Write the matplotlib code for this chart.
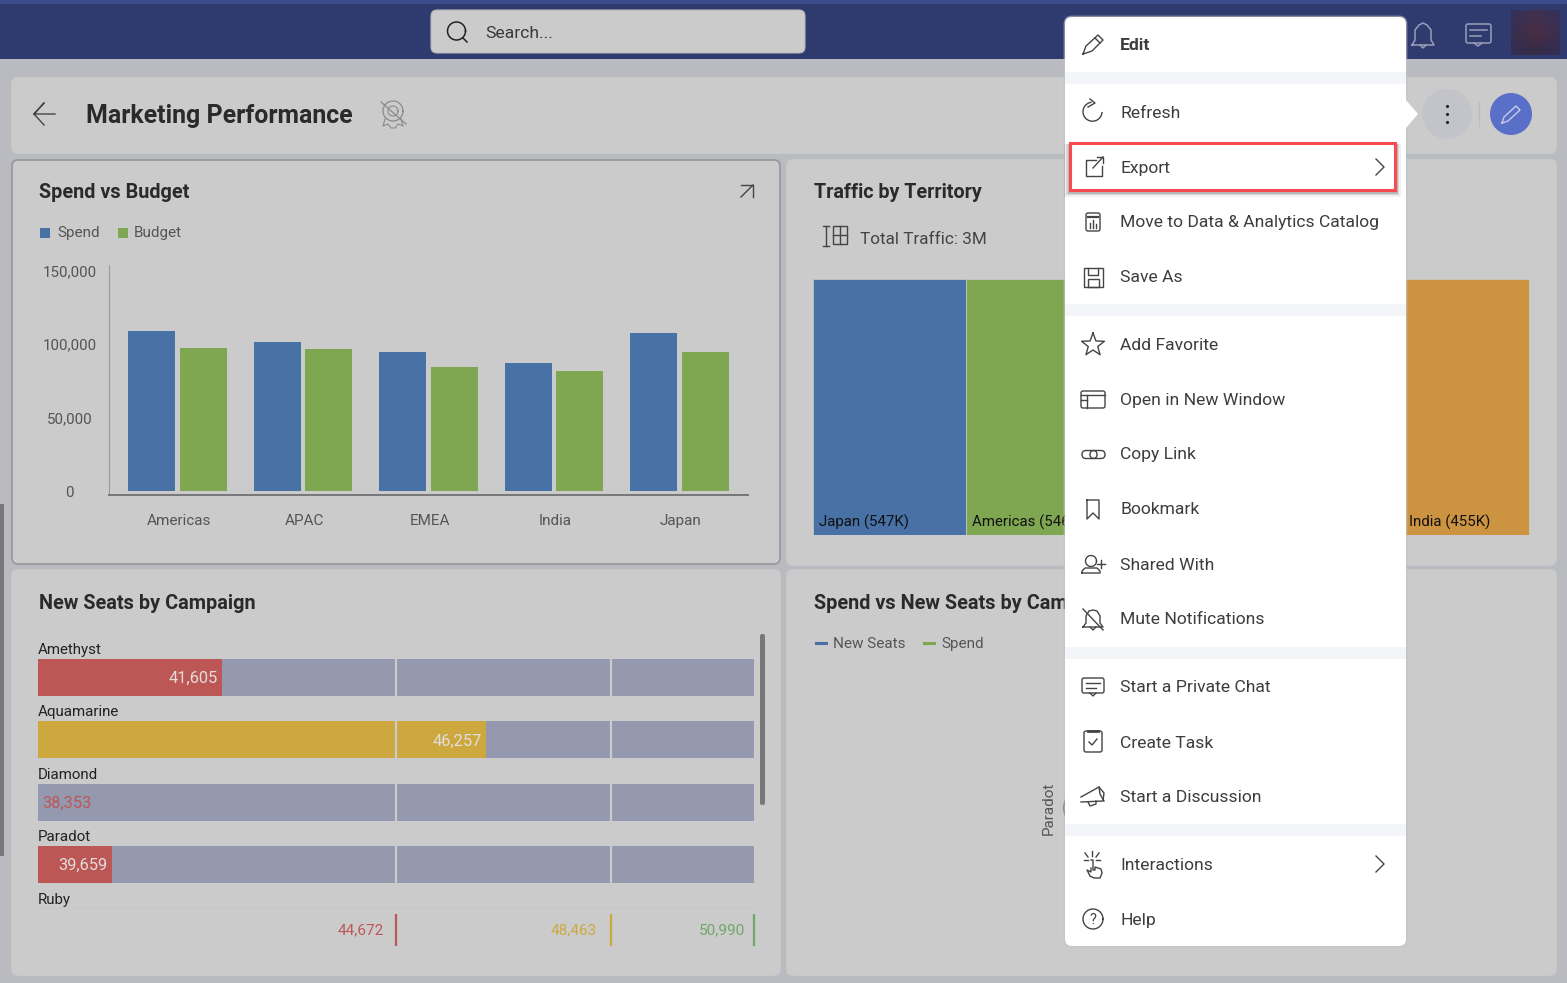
import numpy as np
import matplotlib.pyplot as plt
from matplotlib.patches import FancyBboxPatch, Rectangle, Circle, Polygon

plt.rcParams['font.family'] = ['Roboto', 'DejaVu Sans']

campaigns = ["Amethyst", "Aquamarine", "Diamond", "Paradot"]
new_seats = [41605, 46257, 38353, 39659]
seat_limits = [38353, 44672, 48463, 50990]

territories = ["Americas", "APAC", "EMEA", "India", "Japan"]
spend = [108800, 101400, 94500, 87100, 107500]
budget = [97300, 96600, 84400, 81600, 94500]

traffic_names = ["Japan (547K)", "Americas (546K)", "", "", "India (455K)"]
traffic_values = [547, 546, 520, 505, 455]
traffic_colors = ["#4871a6", "#7fa650", "#bd5755", "#cca83f", "#cc9440"]

menu_labels = ["Edit", "Refresh", "Export", "Move to Data & Analytics Catalog", "Save As", "Add Favorite",
               "Open in New Window", "Copy Link", "Bookmark", "Shared With", "Mute Notifications",
               "Start a Private Chat", "Create Task", "Start a Discussion", "Interactions", "Help"]
menu_rows = [44, 112, 167, 222, 277, 344, 399, 454, 509, 564, 619, 687, 742, 797, 864, 919]

W = 1567
H = 983
panel = "#cbcbcb"
blue = "#4871a6"
green = "#7fa650"
red = "#bd5755"
yellow = "#cca83f"
gray_band = "#9499af"
ink = "#3d3d3d"

fig = plt.figure(figsize=(W / 100, H / 100), dpi=100, facecolor="#b9bbc0")

print("page...")
plt.axes([0, 0, 1, 1], zorder=0)
plt.xlim(0, W)
plt.ylim(H, 0)
plt.axis("off")
bg = plt.gca()

bg.add_patch(Rectangle((0, 0), W, 59, color="#2f3a6f", lw=0))
bg.add_patch(Rectangle((0, 0), W, 4, color="#3d4a8c", lw=0))
bg.add_patch(FancyBboxPatch((435, 14), 366, 35, boxstyle="round,pad=4,rounding_size=6", fc=panel, ec="#b5b5b8", lw=0.8))
bg.add_patch(Rectangle((0, 504), 4, 352, color="#77777c", lw=0))

# panneaux
for x0, y0, x1, y1, edge in [(12, 78, 1556, 153, panel), (12, 160, 780, 564, "#96969b"), (787, 160, 1556, 565, panel),
                             (12, 570, 780, 975, panel), (787, 570, 1556, 975, panel)]:
    bg.add_patch(FancyBboxPatch((x0 + 6, y0 + 6), x1 - x0 - 12, y1 - y0 - 12, boxstyle="round,pad=6,rounding_size=6",
                                fc=panel, ec=edge, lw=1.2))

t = np.linspace(0, 2 * np.pi, 60)
plt.plot(456.5 + 9 * np.cos(t), 31 + 9 * np.sin(t), color="#222222", lw=1.1)
plt.plot([463, 467], [38, 42], color="#222222", lw=1.1)
plt.text(485.5, 33, "Search...", fontsize=12.6, color="#3a3a3a", va="center")

plt.plot([55, 34, 44, 34, 44], [114, 114, 103, 114, 125], color="#444444", lw=1)
plt.text(85.5, 115.5, "Marketing Performance", fontsize=17.95, fontweight="bold", color="#2a2a2a", va="center")
plt.plot(393 + 10 * np.cos(t), 111 + 10 * np.sin(t), color="#8a8a8a", lw=0.9)
plt.plot(393 + 5 * np.cos(t), 111 + 5 * np.sin(t), color="#8a8a8a", lw=0.8)
plt.plot([385, 383, 388, 391, 395, 398, 403, 401], [119, 126, 124, 128, 128, 124, 126, 119], color="#8a8a8a", lw=0.8)
plt.plot([381, 406], [102, 124], color="#8a8a8a", lw=0.9)

# icones du haut
for cx in [1423]:
    plt.plot(cx + np.array([-11, -8, -8, -4, 0, 4, 8, 8, 11, -11]), 34 + np.array([11, 6, -4, -9, -11, -9, -4, 6, 11, 11]),
             color="#9a9fb8", lw=1.1)
    plt.plot(cx + np.array([-3, 0, 3]), 34 + np.array([11, 14, 11]), color="#9a9fb8", lw=1.1)
bg.add_patch(FancyBboxPatch((1466, 24), 25, 19, boxstyle="round,pad=0,rounding_size=2", fc="none", ec="#9a9fb8", lw=1.1))
plt.plot([1470, 1487], [30, 30], color="#9a9fb8", lw=1.1)
plt.plot([1470, 1481], [36, 36], color="#9a9fb8", lw=1.1)
plt.plot([1474, 1478, 1482], [43, 46, 43], color="#9a9fb8", lw=1.1)
avatar = np.array([[[0.21, 0.19, 0.35], [0.27, 0.19, 0.30], [0.21, 0.19, 0.35]],
                   [[0.23, 0.18, 0.30], [0.33, 0.18, 0.24], [0.25, 0.18, 0.30]],
                   [[0.20, 0.18, 0.32], [0.21, 0.17, 0.27], [0.20, 0.18, 0.32]]])
plt.imshow(avatar, extent=(1511, 1560, 55, 10), interpolation="bicubic", aspect="auto", zorder=2)
plt.xlim(0, W)
plt.ylim(H, 0)

bg.add_patch(Circle((1447, 114), 25, color="#c3c4c9", lw=0))
plt.scatter([1447, 1447, 1447], [106, 114, 122], s=5, color="#1e1e1e", lw=0)
plt.plot([1479, 1479], [102, 126], color="#bcbcc0", lw=1)
bg.add_patch(Circle((1511, 114), 21, color="#5a6fc8", lw=0))
plt.plot([1502, 1504, 1516, 1520, 1508, 1502], [123, 117, 106, 110, 121, 123], color="#c6cbe6", lw=1)

# titres et legendes
plt.text(39, 192.5, "Spend vs Budget", fontsize=14.3, fontweight="bold", color="#2a2a2a", va="center")
plt.plot([741, 753], [197, 185], color="#444444", lw=1)
plt.plot([741, 753, 753], [185, 185, 197], color="#444444", lw=1)
bg.add_patch(Rectangle((40, 228), 10, 10, color=blue, lw=0))
plt.text(57, 233, "Spend", fontsize=11, color="#555555", va="center")
bg.add_patch(Rectangle((118, 228), 10, 10, color=green, lw=0))
plt.text(134, 233, "Budget", fontsize=11, color="#555555", va="center")

plt.text(814, 192.5, "Traffic by Territory", fontsize=14.2, fontweight="bold", color="#2a2a2a", va="center")
plt.plot([823, 829], [226, 226], color="#444444", lw=1)
plt.plot([823, 829], [246, 246], color="#444444", lw=1)
plt.plot([826, 826], [226, 246], color="#444444", lw=1)
bg.add_patch(Rectangle((833, 226), 14, 18, fc="none", ec="#444444", lw=1))
plt.plot([833, 847], [235, 235], color="#444444", lw=1)
plt.plot([840, 840], [226, 244], color="#444444", lw=1)
plt.text(860, 239, "Total Traffic: 3M", fontsize=12.3, color="#444444", va="center")

plt.text(39, 603.5, "New Seats by Campaign", fontsize=14.3, fontweight="bold", color="#2a2a2a", va="center")
bg.add_patch(FancyBboxPatch((760, 634), 5, 171, boxstyle="round,pad=0,rounding_size=2", fc="#77777c", lw=0))

plt.text(814, 603.5, "Spend vs New Seats by Campaign", fontsize=14.3, fontweight="bold", color="#2a2a2a", va="center")
plt.plot([816, 826], [643, 643], color=blue, lw=2.2)
plt.text(833, 644, "New Seats", fontsize=11, color="#555555", va="center")
plt.plot([924, 934], [643, 643], color=green, lw=2.2)
plt.text(941, 644, "Spend", fontsize=11, color="#555555", va="center")
plt.text(1049, 808, "Paradot", fontsize=11, color="#555555", rotation=90, va="center", ha="center")
plt.plot(1090 + 26 * np.cos(t[22:38]), 808 + 26 * np.sin(t[22:38]), color="#555555", lw=1)

print("spend vs budget...")
plt.axes([109 / W, 1 - 495 / H, (748 - 109) / W, (495 - 265) / H], zorder=1, facecolor="none")
x = np.arange(len(territories))
plt.bar(x - 0.219, spend, 0.3745, color=blue)
plt.bar(x + 0.195, budget, 0.3745, color=green)
plt.xlim(-0.558, 4.534)
plt.ylim(-2721, 153741)
plt.xticks(x, territories, fontsize=11, color="#555555")
plt.yticks([0, 50000, 100000, 150000], ["0", "50,000", "100,000", "150,000"], fontsize=10.9, color="#555555", ha="center",
           va="center_baseline")
plt.tick_params(axis="y", length=0, pad=28.4)
plt.tick_params(axis="x", length=0, pad=13.5)
for side in ["top", "right"]:
    plt.gca().spines[side].set_visible(False)
plt.gca().spines["left"].set_color("#9a9a9a")
plt.gca().spines["bottom"].set_color("#77777a")
plt.gca().spines["bottom"].set_linewidth(1.4)

print("traffic...")
plt.axes([813.5 / W, 1 - 534.5 / H, (1529.5 - 813.5) / W, (534.5 - 278.5) / H], zorder=1)
left = np.cumsum([0] + traffic_values[:-1])
plt.bar(left, 1, traffic_values, align="edge", color=traffic_colors, edgecolor=panel, linewidth=0.5)
plt.xlim(0, sum(traffic_values))
plt.ylim(0, 1)
plt.axis("off")
for i in range(len(traffic_values)):
    if traffic_names[i]:
        plt.annotate(traffic_names[i], (left[i], 0), xytext=(4.3, 9), textcoords="offset points", fontsize=10.8, color="#111111",
                     va="center")

print("new seats...")
plt.axes([38 / W, 1 - 950 / H, (754 - 38) / W, (950 - 634) / H], zorder=1, facecolor="none")
rows = np.arange(len(campaigns))
band_left = seat_limits[:-1]
band_width = np.diff(seat_limits)
for i in rows:
    plt.barh(i, band_width, 0.594, left=band_left, color=gray_band)
    limit_color = red if new_seats[i] < seat_limits[1] else yellow
    plt.barh(i, new_seats[i] - seat_limits[0], 0.594, left=seat_limits[0], color=limit_color)
    plt.vlines(seat_limits[1:3], i - 0.297, i + 0.297, color=panel, lw=1.6)
    plt.text(seat_limits[0], i - 0.44, campaigns[i], fontsize=10.9, color="#222222", va="center")
    if new_seats[i] == seat_limits[0]:
        plt.annotate(f"{new_seats[i]:,}", (new_seats[i], i + 0.016), xytext=(3, 0), textcoords="offset points", fontsize=11.8, color=red,
                     va="center")
    else:
        plt.annotate(f"{new_seats[i]:,}", (new_seats[i], i + 0.016), xytext=(-3, 0), textcoords="offset points", fontsize=11.8,
                     color="#e2dedc", ha="right", va="center")
plt.text(seat_limits[0], 3.56, "Ruby", fontsize=10.9, color="#222222", va="center")
plt.hlines(3.69, seat_limits[0], seat_limits[3], color="#c6c6c6", lw=0.6)
limit_colors = [red, yellow, "#6fa868"]
limit_pads = [-9, -10, -6.5]
for i in range(3):
    plt.vlines(seat_limits[i + 1], 3.79, 4.3, color=limit_colors[i], lw=1.6, clip_on=False)
    plt.annotate(f"{seat_limits[i + 1]:,}", (seat_limits[i + 1], 4.05), xytext=(limit_pads[i], 0), textcoords="offset points",
                 fontsize=11, color=limit_colors[i], ha="right", va="center")
plt.xlim(seat_limits[0], seat_limits[3])
plt.ylim(4.367, -0.697)
plt.axis("off")

print("menu...")
plt.axes([0, 0, 1, 1], zorder=2, facecolor="none")
plt.xlim(0, W)
plt.ylim(H, 0)
plt.axis("off")
top = plt.gca()

top.add_patch(FancyBboxPatch((1071, 23), 329, 917, boxstyle="round,pad=6,rounding_size=7", fc="#c2c2c2", ec="#c2c2c2", lw=2, alpha=0.6))
top.add_patch(FancyBboxPatch((1071, 23), 329, 917, boxstyle="round,pad=6,rounding_size=7", fc="white", lw=0))
top.add_patch(Polygon([(1406, 100), (1418, 114), (1406, 128)], color="white", lw=0))
for y0 in [72, 304, 647, 824]:
    top.add_patch(Rectangle((1065, y0), 341, 12, color="#f4f5f9", lw=0))

# ombre et cadre rouge
for grow, alpha in [(5, 0.06), (3, 0.1), (1.5, 0.14)]:
    top.add_patch(Rectangle((1069 - grow, 144), 327 + 2 * grow, 46 + grow + 2, color="#000000", alpha=alpha, lw=0))
top.add_patch(Rectangle((1070, 142.5), 325, 47, fc="white", ec="#f84a4f", lw=2.2))

for i in range(len(menu_labels)):
    plt.text(1120, menu_rows[i] + 1, menu_labels[i], fontsize=12.6, color=ink, va="center", fontweight="bold" if i == 0 else "normal")

icon = {"color": "#444444", "lw": 1}
plt.plot([1083, 1086, 1098, 1103, 1092, 1083], [54, 46, 35, 40, 51, 54], **icon)
plt.plot([1095, 1100], [38, 43], **icon)
arc = np.linspace(0.1, 4.55, 40)
plt.plot(1092.5 + 9.5 * np.cos(arc), 111.7 + 9.5 * np.sin(arc), **icon)
plt.plot([1090, 1095, 1088], [99, 103, 107], **icon)
plt.plot([1096, 1086, 1086, 1102, 1102], [160, 160, 176, 176, 166], **icon)
plt.plot([1093, 1103], [168, 157], **icon)
plt.plot([1097, 1103, 1103], [157, 157, 163], **icon)
plt.plot([1376, 1384, 1376], [159, 167, 175], **icon)
top.add_patch(FancyBboxPatch((1086, 213), 14, 18, boxstyle="round,pad=0,rounding_size=2", fc="none", ec="#444444", lw=1))
plt.plot([1088, 1098], [217, 217], color="#444444", lw=1.6)
plt.plot([1090, 1090], [228, 223], **icon)
plt.plot([1093, 1093], [228, 220], **icon)
plt.plot([1096, 1096], [228, 224], **icon)
top.add_patch(Rectangle((1084, 268), 19, 19, fc="none", ec="#444444", lw=1))
plt.plot([1088, 1088, 1098, 1098], [268, 275, 275, 268], **icon)
top.add_patch(Rectangle((1088, 279), 11, 8, fc="none", ec="#444444", lw=1))
star = np.arange(11) * np.pi / 5 - np.pi / 2
star_r = np.array([12, 5] * 5 + [12])
plt.plot(1093 + star_r * np.cos(star), 345 + star_r * np.sin(star), **icon)
top.add_patch(FancyBboxPatch((1081, 391), 24, 17, boxstyle="round,pad=0,rounding_size=2", fc="none", ec="#444444", lw=1))
plt.plot([1081, 1105], [395, 395], **icon)
plt.plot([1087, 1087], [395, 408], **icon)
plt.plot([1081, 1087], [400, 400], **icon)
top.add_patch(FancyBboxPatch((1082, 450.5), 15, 8, boxstyle="round,pad=0,rounding_size=4", fc="none", ec="#444444", lw=1))
top.add_patch(FancyBboxPatch((1090, 450.5), 15, 8, boxstyle="round,pad=0,rounding_size=4", fc="none", ec="#444444", lw=1))
plt.plot([1087, 1099, 1099, 1093, 1087, 1087], [500, 500, 519, 513, 519, 500], **icon)
plt.plot(1091 + 5.5 * np.cos(t), 561 + 5.5 * np.sin(t), **icon)
plt.plot([1082, 1082, 1085, 1097, 1100, 1100, 1082], [573, 571, 568, 568, 571, 573, 573], **icon)
plt.plot([1097, 1105], [564, 564], **icon)
plt.plot([1101, 1101], [560, 568], **icon)
plt.plot(1093 + np.array([-10, -7, -7, -4, 0, 4, 7, 7, 10, -10]), 619 + np.array([8, 4, -3, -8, -9, -8, -3, 4, 8, 8]), **icon)
plt.plot([1090, 1093, 1096], [627, 630, 627], **icon)
plt.plot([1083, 1103], [609, 630], **icon)
top.add_patch(FancyBboxPatch((1082, 678), 22, 15, boxstyle="round,pad=0,rounding_size=2", fc="none", ec="#444444", lw=1))
plt.plot([1086, 1100], [683, 683], **icon)
plt.plot([1086, 1096], [688, 688], **icon)
plt.plot([1090, 1093, 1096], [693, 696, 693], **icon)
top.add_patch(FancyBboxPatch((1084, 731), 18, 21, boxstyle="round,pad=0,rounding_size=2", fc="none", ec="#444444", lw=1))
plt.plot([1088, 1098], [731, 731], color="#444444", lw=2)
plt.plot([1089, 1092, 1097], [742, 745, 739], **icon)
plt.plot([1081, 1099, 1104, 1103, 1081], [797, 787, 793, 801, 802], **icon)
plt.plot([1099, 1100, 1104], [787, 794, 801], **icon)
plt.plot([1088, 1090, 1096, 1096], [802, 806, 804, 801], **icon)
plt.plot([1092, 1092], [856, 851], **icon)
plt.plot([1085, 1088], [853, 857], **icon)
plt.plot([1099, 1096], [853, 857], **icon)
plt.plot([1084, 1088], [860, 860], **icon)
plt.plot([1096, 1100], [860, 860], **icon)
plt.plot([1091, 1091, 1087, 1090, 1094, 1100, 1102, 1101, 1095, 1095, 1093, 1093, 1091],
         [868, 872, 870, 876, 878, 878, 873, 869, 867, 870, 870, 860, 860], **icon)
plt.plot([1376, 1384, 1376], [856, 864, 872], **icon)
plt.plot(1093 + 10 * np.cos(t), 919 + 10 * np.sin(t), **icon)
plt.text(1093, 919.5, "?", fontsize=10.5, color="#444444", ha="center", va="center")

fig.savefig("out.png", dpi=100)
